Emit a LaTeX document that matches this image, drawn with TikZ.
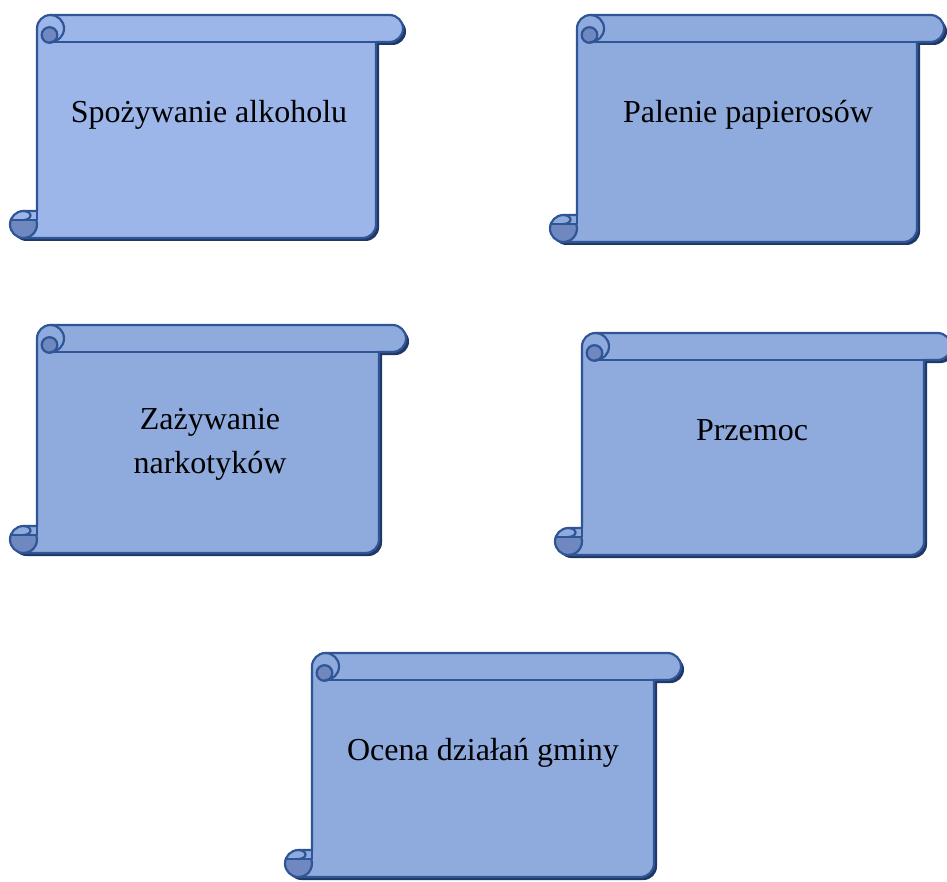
\documentclass[tikz,border=0pt]{standalone}
\usepackage{fontspec}
\setmainfont{Liberation Serif}
\definecolor{lineblue}{HTML}{2F5597}
\definecolor{fillA}{HTML}{9CB6EA}
\definecolor{fillB}{HTML}{8FAADC}
\definecolor{curldark}{HTML}{6F88BF}
\definecolor{shadowblue}{HTML}{203864}
\tikzset{
  scrollline/.style={draw=lineblue, line width=2.2pt, line join=round, line cap=round},
  scrolltext/.style={font=\fontsize{32}{43}\selectfont, anchor=base, text=black, inner sep=0pt},
}
\newcommand\scrollouter{%
  ({\scL+27},{\scT+13.5}) arc[start angle=180, end angle=270, radius=13.5]
  -- ({\scR-13.5},{\scT}) arc[start angle=270, end angle=450, radius=13.5]
  -- ({\scR-27},{\scT+27}) -- ({\scR-27},{\scB-13.5})
  arc[start angle=0, end angle=90, radius=13.5]
  -- ({\scL+13.5},{\scB}) arc[start angle=90, end angle=270, radius=13.5]
  -- ({\scL+27},{\scB-27}) -- cycle}
\newcommand\drawscroll[5]{% L T R B fill
  \def\scL{#1}\def\scT{#2}\def\scR{#3}\def\scB{#4}%
  \fill[shadowblue, shift={(3,3)}] \scrollouter;
  \fill[#5] \scrollouter;
  % bottom-left curl, dark part
  \fill[curldark] ({\scL+13.5+12.73},{\scB-18}) arc[start angle=-19.47, end angle=199.47, radius=13.5] -- cycle;
  % top-left curl, dark part
  \fill[curldark] ({\scL+39.5},{\scT+20}) circle[radius=7.8];
  % outline
  \draw[scrollline] \scrollouter;
  % top curl lines
  \draw[scrollline] ({\scL+40.5},{\scT}) arc[start angle=270, end angle=450, radius=13.5];
  \draw[scrollline] ({\scL+39.5},{\scT+20}) circle[radius=7.8];
  \draw[scrollline] ({\scL+40.5},{\scT+27}) -- ({\scR-27},{\scT+27});
  % bottom curl lines
  \draw[scrollline] ({\scL+27},{\scB-27}) -- ({\scL+27},{\scB-18}) -- ({\scL+0.77},{\scB-18});
  \draw[scrollline] ({\scL+26.23},{\scB-18}) arc[start angle=-19.47, end angle=90, radius=13.5];
  \draw[scrollline] ({\scL+13.5},{\scB-27}) arc[start angle=270, end angle=450, x radius=7, y radius=4.5];
}
\begin{document}
\begin{tikzpicture}[x=1pt, y=-1pt]
  \useasboundingbox (0,0) rectangle (947,882);
  \fill[white] (0,0) rectangle (947,882);
  \clip (0,0) rectangle (947,882);
  \drawscroll{10}{15}{403}{238}{fillA}
  \drawscroll{550}{15}{944}{242}{fillB}
  \drawscroll{10}{325}{406}{553}{fillB}
  \drawscroll{555}{333}{951}{555}{fillB}
  \drawscroll{285}{653}{681}{877}{fillB}
  \node[scrolltext] (t1) at (209,123) {Spożywanie alkoholu};
  \node[scrolltext] (t2) at (748,123) {Palenie papierosów};
  \node[scrolltext] (t3a) at (210,429) {Zażywanie};
  \node[scrolltext] (t3b) at (210,473) {narkotyków};
  \node[scrolltext] (t4) at (752,440) {Przemoc};
  \node[scrolltext] (t5) at (483,760) {Ocena działań gminy};
\end{tikzpicture}
\end{document}
